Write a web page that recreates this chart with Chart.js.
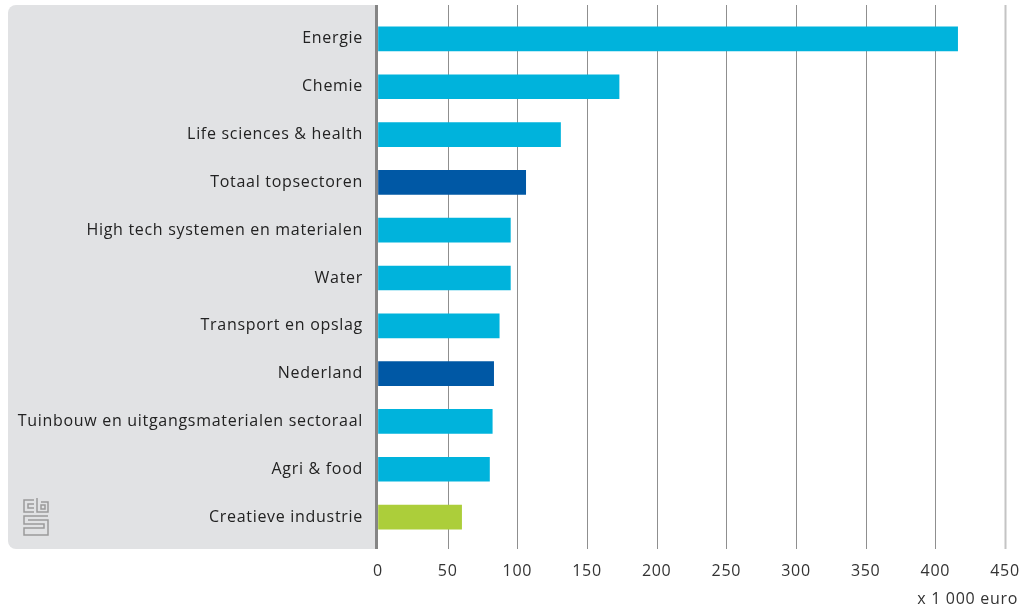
<!DOCTYPE html>
<html>
<head>
<meta charset="utf-8">
<script src="https://cdn.jsdelivr.net/npm/chart.js@4"></script>
<style>
  html, body { margin: 0; padding: 0; background: #fff; }
  #wrap { width: 1033px; height: 612px; }
</style>
</head>
<body>
<div id="wrap"><canvas id="chart" width="1033" height="612"></canvas></div>
<script>
const categories = [
  "Energie", "Chemie", "Life sciences & health", "Totaal topsectoren",
  "High tech systemen en materialen", "Water", "Transport en opslag",
  "Nederland", "Tuinbouw en uitgangsmaterialen sectoraal", "Agri & food",
  "Creatieve industrie"
];
const values = [416, 173, 131, 106, 95, 95, 87, 83, 82, 80, 60];
const barColors = [
  "#00b3dc", "#00b3dc", "#00b3dc", "#0058a5", "#00b3dc", "#00b3dc",
  "#00b3dc", "#0058a5", "#00b3dc", "#00b3dc", "#acce3a"
];
const xTicks = [0, 50, 100, 150, 200, 250, 300, 350, 400, 450];
const unitLabel = "x 1 000 euro";

const FONT = "'Open Sans', sans-serif";
const SPACING = "0.7px";

// grey panel behind the labels, gridlines, axis line, logo, unit label
const decor = {
  id: "decor",
  beforeDraw(chart) {
    const ctx = chart.ctx, x = chart.scales.x, area = chart.chartArea;
    const top = 5, bottom = 549;
    ctx.save();
    // panel
    ctx.fillStyle = "#e1e2e4";
    ctx.beginPath();
    ctx.roundRect(8, top, area.left - 8, bottom - top, [8, 0, 0, 8]);
    ctx.fill();
    // gridlines
    xTicks.forEach((v, i) => {
      if (v === 0) return;
      const px = Math.round(x.getPixelForValue(v)) + 0.5;
      ctx.strokeStyle = i === xTicks.length - 1 ? "#c4c4c4" : "#8f8f8f";
      ctx.lineWidth = i === xTicks.length - 1 ? 2 : 1;
      ctx.beginPath();
      ctx.moveTo(px, top);
      ctx.lineTo(px, bottom);
      ctx.stroke();
    });
    // cbs logo
    ctx.strokeStyle = "#9a9a9a";
    ctx.lineWidth = 1.5;
    const lx = 24, ly = 498;
    ctx.beginPath();
    ctx.moveTo(lx + 10, ly + 2); ctx.lineTo(lx, ly + 2); ctx.lineTo(lx, ly + 14); ctx.lineTo(lx + 10, ly + 14);
    ctx.moveTo(lx + 10, ly + 6); ctx.lineTo(lx + 4, ly + 6); ctx.lineTo(lx + 4, ly + 10); ctx.lineTo(lx + 10, ly + 10);
    ctx.moveTo(lx + 13, ly); ctx.lineTo(lx + 13, ly + 14); ctx.lineTo(lx + 24, ly + 14); ctx.lineTo(lx + 24, ly + 4); ctx.lineTo(lx + 17, ly + 4);
    ctx.rect(lx + 17, ly + 7, 4, 4);
    ctx.moveTo(lx + 24, ly + 18); ctx.lineTo(lx, ly + 18); ctx.lineTo(lx, ly + 26); ctx.lineTo(lx + 20, ly + 26);
    ctx.lineTo(lx + 20, ly + 30); ctx.lineTo(lx, ly + 30); ctx.lineTo(lx, ly + 37); ctx.lineTo(lx + 24, ly + 37);
    ctx.lineTo(lx + 24, ly + 22); ctx.lineTo(lx + 4, ly + 22);
    ctx.stroke();
    // unit label
    ctx.letterSpacing = SPACING;
    ctx.fillStyle = "#333";
    ctx.font = "16px " + FONT;
    ctx.textAlign = "right";
    ctx.textBaseline = "middle";
    ctx.fillText(unitLabel, area.right + 13, 599);
    ctx.restore();
    chart.ctx.letterSpacing = SPACING;
  },
  afterDatasetsDraw(chart) {
    const ctx = chart.ctx, area = chart.chartArea;
    ctx.save();
    ctx.strokeStyle = "#858585";
    ctx.lineWidth = 3;
    ctx.beginPath();
    ctx.moveTo(area.left - 1.5, 5);
    ctx.lineTo(area.left - 1.5, 549);
    ctx.stroke();
    ctx.restore();
  }
};

// invisible tick marks push the labels away without adding edge padding
const hiddenTicks = len => ({
  display: true, drawOnChartArea: false, drawTicks: true,
  tickLength: len, color: "rgba(0,0,0,0)"
});

new Chart(document.getElementById("chart"), {
  type: "bar",
  data: {
    labels: categories,
    datasets: [{
      data: values,
      backgroundColor: barColors,
      barThickness: 24
    }]
  },
  options: {
    indexAxis: "y",
    responsive: false,
    animation: false,
    layout: { padding: { top: 15, right: 28, bottom: 0, left: 0 } },
    plugins: { legend: { display: false }, tooltip: { enabled: false } },
    scales: {
      x: {
        min: 0, max: 450,
        afterBuildTicks: s => { s.ticks = xTicks.map(v => ({ value: v })); },
        afterFit: s => { s.height = 71; },
        grid: hiddenTicks(21),
        border: { display: false },
        ticks: { color: "#333", padding: 0, font: { family: FONT, size: 16 } }
      },
      y: {
        afterFit: s => { s.width = 378; },
        grid: hiddenTicks(15),
        border: { display: false },
        ticks: { color: "#222", padding: 0, font: { family: FONT, size: 16 } }
      }
    }
  },
  plugins: [decor]
});
</script>
</body>
</html>
